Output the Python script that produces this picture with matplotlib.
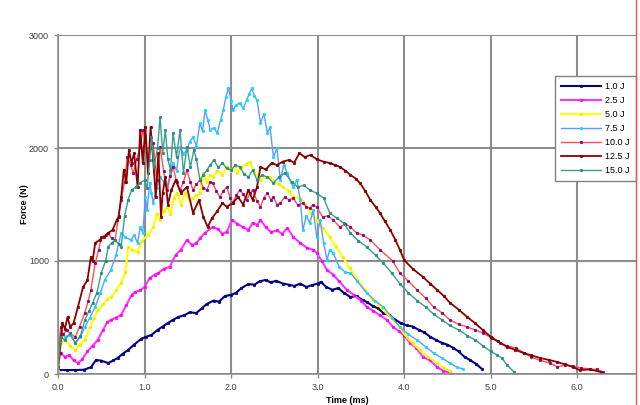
import matplotlib
matplotlib.use("Agg")
import matplotlib.pyplot as plt
from matplotlib.lines import Line2D

plt.rcParams['font.family'] = ['Liberation Sans', 'DejaVu Sans']

labels = ["1.0 J", "2.5 J", "5.0 J", "7.5 J", "10.0 J", "12.5 J", "15.0 J"]

# 1.0 J
t_10 = [0.0, 0.1, 0.2, 0.3, 0.38, 0.44, 0.5, 0.58, 0.64, 0.69, 0.75, 0.81, 0.88, 0.96, 1.02, 1.08, 1.15, 1.21,
        1.27, 1.33, 1.39, 1.46, 1.52, 1.6, 1.66, 1.72, 1.8, 1.86, 1.93, 2.0, 2.06, 2.12, 2.2, 2.27, 2.33, 2.4,
        2.46, 2.52, 2.6, 2.67, 2.73, 2.8, 2.87, 2.93, 3.0, 3.04, 3.1, 3.17, 3.24, 3.3, 3.38, 3.45, 3.52, 3.57,
        3.64, 3.7, 3.76, 3.83, 3.9, 3.96, 4.03, 4.1, 4.17, 4.23, 4.3, 4.37, 4.44, 4.5, 4.57, 4.63, 4.7, 4.76,
        4.83, 4.9]
f_10 = [35, 35, 35, 38, 60, 124, 118, 97, 120, 142, 180, 212, 260, 310, 330, 345, 390, 420,
        451, 480, 504, 520, 545, 540, 580, 620, 650, 640, 690, 700, 720, 760, 796, 790, 820, 832,
        810, 825, 800, 790, 779, 800, 770, 785, 800, 814, 770, 745, 760, 720, 681, 690, 655, 637,
        600, 580, 540, 520, 480, 451, 430, 420, 390, 370, 330, 300, 274, 260, 230, 200, 150, 124,
        90, 44]

# 2.5 J
t_25 = [0.0, 0.03, 0.08, 0.13, 0.18, 0.23, 0.28, 0.34, 0.4, 0.46, 0.52, 0.57, 0.61, 0.67, 0.73, 0.79, 0.85,
        0.89, 0.95, 1.0, 1.06, 1.12, 1.16, 1.22, 1.29, 1.36, 1.42, 1.49, 1.55, 1.6, 1.64, 1.7, 1.79, 1.85, 1.9,
        1.95, 2.01, 2.07, 2.14, 2.2, 2.25, 2.3, 2.34, 2.4, 2.46, 2.53, 2.59, 2.65, 2.72, 2.8, 2.88, 2.95, 2.99,
        3.05, 3.11, 3.18, 3.25, 3.34, 3.42, 3.5, 3.57, 3.64, 3.72, 3.8, 3.87, 3.94, 4.0, 4.07, 4.14, 4.22, 4.3,
        4.38, 4.45, 4.53]
f_25 = [80, 186, 150, 168, 120, 97, 130, 200, 250, 301, 390, 460, 478, 500, 522, 610, 700,
        726, 740, 770, 850, 880, 894, 930, 947, 1053, 1100, 1186, 1140, 1159, 1200, 1250, 1301, 1280, 1240,
        1257, 1363, 1330, 1300, 1274, 1336, 1320, 1363, 1300, 1257, 1270, 1240, 1292, 1212, 1159, 1115, 1100, 1071,
        1000, 920, 880, 820, 743, 700, 650, 593, 560, 520, 480, 416, 380, 340, 274, 230, 150, 120,
        62, 30, 10]

# 5.0 J
t_50 = [0.0, 0.03, 0.08, 0.14, 0.2, 0.25, 0.31, 0.37, 0.42, 0.46, 0.52, 0.57, 0.61, 0.67, 0.73, 0.78, 0.81,
        0.86, 0.92, 0.97, 1.04, 1.1, 1.14, 1.18, 1.22, 1.26, 1.3, 1.34, 1.38, 1.42, 1.47, 1.52, 1.56, 1.6, 1.64,
        1.68, 1.72, 1.76, 1.79, 1.84, 1.9, 1.95, 2.0, 2.04, 2.07, 2.12, 2.17, 2.22, 2.27, 2.34, 2.4, 2.45, 2.5,
        2.55, 2.6, 2.67, 2.72, 2.8, 2.86, 2.92, 2.99, 3.06, 3.14, 3.21, 3.29, 3.37, 3.46, 3.55, 3.64, 3.74, 3.84,
        3.94, 4.03, 4.1, 4.18, 4.28, 4.38, 4.46, 4.53]
f_50 = [30, 274, 300, 250, 212, 260, 300, 420, 500, 566, 620, 660, 681, 740, 805, 900, 1124,
        1100, 1080, 1180, 1230, 1300, 1420, 1363, 1440, 1478, 1420, 1560, 1602, 1500, 1600, 1540, 1560, 1580, 1600,
        1779, 1700, 1760, 1743, 1800, 1760, 1832, 1800, 1840, 1779, 1820, 1860, 1876, 1780, 1717, 1743, 1740, 1700,
        1680, 1655, 1620, 1566, 1558, 1500, 1425, 1363, 1290, 1212, 1130, 1035, 940, 832, 740, 655, 580, 504,
        420, 327, 270, 212, 150, 97, 55, 27]

# 7.5 J
t_75 = [0.0, 0.03, 0.08, 0.14, 0.2, 0.26, 0.31, 0.37, 0.43, 0.49, 0.54, 0.61, 0.67, 0.73, 0.78, 0.84, 0.88,
        0.92, 0.95, 0.98, 1.01, 1.03, 1.06, 1.08, 1.1, 1.14, 1.18, 1.22, 1.26, 1.3, 1.33, 1.37, 1.41, 1.45, 1.49,
        1.52, 1.56, 1.6, 1.64, 1.67, 1.7, 1.73, 1.76, 1.8, 1.84, 1.88, 1.91, 1.94, 1.97, 2.0, 2.02, 2.06, 2.1,
        2.14, 2.18, 2.21, 2.24, 2.27, 2.3, 2.34, 2.38, 2.42, 2.45, 2.49, 2.53, 2.57, 2.61, 2.65, 2.69, 2.72, 2.76,
        2.8, 2.83, 2.87, 2.91, 2.95, 2.99, 3.03, 3.07, 3.11, 3.14, 3.18, 3.25, 3.32, 3.38, 3.46, 3.57, 3.66, 3.76,
        3.86, 3.95, 4.05, 4.15, 4.25, 4.34, 4.44, 4.53, 4.61, 4.68]
f_75 = [100, 363, 330, 345, 274, 330, 416, 500, 593, 720, 832, 920, 1050, 1248, 1210, 1186, 1230,
        1159, 1300, 1250, 1566, 1450, 1690, 1600, 1513, 1650, 1743, 1700, 1655, 1780, 1867, 1800, 2009, 1950, 1982,
        2050, 2097, 2020, 2221, 2150, 2336, 2250, 2159, 2180, 2133, 2250, 2336, 2450, 2531, 2420, 2336, 2380, 2398,
        2350, 2425, 2480, 2531, 2460, 2425, 2221, 2300, 2133, 2186, 1920, 2000, 1717, 1850, 1779, 1700, 1655, 1720,
        1540, 1274, 1400, 1336, 1450, 1212, 1363, 1159, 1009, 1100, 1071, 950, 900, 894, 820, 717, 650, 593,
        500, 416, 350, 301, 240, 186, 140, 97, 60, 44]

# 10.0 J
t_100 = [0.0, 0.03, 0.06, 0.1, 0.14, 0.2, 0.25, 0.31, 0.35, 0.38, 0.43, 0.47, 0.5, 0.55, 0.58, 0.62, 0.66,
         0.7, 0.73, 0.77, 0.8, 0.84, 0.87, 0.91, 0.95, 0.98, 1.01, 1.04, 1.07, 1.1, 1.14, 1.18, 1.22, 1.26, 1.3,
         1.33, 1.37, 1.41, 1.45, 1.49, 1.53, 1.56, 1.6, 1.64, 1.68, 1.72, 1.76, 1.79, 1.83, 1.87, 1.91, 1.95,
         1.99, 2.02, 2.06, 2.1, 2.14, 2.18, 2.22, 2.25, 2.3, 2.34, 2.38, 2.42, 2.46, 2.49, 2.53, 2.57, 2.62, 2.67,
         2.72, 2.77, 2.83, 2.87, 2.91, 2.95, 2.99, 3.06, 3.12, 3.18, 3.26, 3.32, 3.38, 3.45, 3.52, 3.61, 3.72,
         3.87, 3.95, 4.05, 4.15, 4.25, 4.34, 4.44, 4.53, 4.63, 4.73, 4.82, 4.91, 5.01, 5.11, 5.19, 5.29, 5.38,
         5.47, 5.57, 5.69, 5.77, 5.86, 5.95, 6.05, 6.15, 6.23, 6.3]
f_100 = [150, 416, 350, 389, 360, 327, 420, 540, 650, 743, 982, 1100, 1212, 1230, 1248, 1200, 1186,
         1400, 1540, 1700, 1920, 1850, 1779, 1900, 2009, 2159, 2050, 1920, 2000, 2044, 1717, 2009, 1800, 1628, 1750,
         1832, 1700, 1628, 1700, 1805, 1700, 1628, 1680, 1717, 1650, 1628, 1700, 1690, 1620, 1566, 1620, 1655,
         1560, 1513, 1580, 1628, 1590, 1540, 1600, 1628, 1530, 1478, 1560, 1602, 1540, 1566, 1500, 1513, 1566, 1540,
         1558, 1496, 1513, 1480, 1469, 1500, 1478, 1389, 1400, 1363, 1300, 1330, 1300, 1250, 1230, 1186, 1100,
         1000, 894, 820, 743, 670, 593, 540, 478, 440, 416, 390, 363, 320, 274, 250, 230, 190, 150,
         120, 97, 62, 80, 70, 53, 44, 40, 18]

# 12.5 J
t_125 = [0.0, 0.02, 0.05, 0.08, 0.11, 0.14, 0.18, 0.23, 0.29, 0.34, 0.38, 0.4, 0.43, 0.48, 0.53, 0.58, 0.63,
         0.68, 0.7, 0.73, 0.76, 0.79, 0.82, 0.85, 0.88, 0.92, 0.95, 0.98, 1.01, 1.04, 1.07, 1.1, 1.13, 1.16,
         1.19, 1.21, 1.24, 1.27, 1.31, 1.36, 1.42, 1.49, 1.56, 1.63, 1.68, 1.73, 1.78, 1.84, 1.9, 1.95, 2.02,
         2.08, 2.14, 2.2, 2.25, 2.3, 2.34, 2.4, 2.47, 2.53, 2.6, 2.67, 2.73, 2.79, 2.85, 2.92, 2.99, 3.07, 3.14,
         3.2, 3.26, 3.32, 3.38, 3.44, 3.49, 3.55, 3.61, 3.67, 3.72, 3.78, 3.84, 3.9, 3.95, 4.0, 4.1, 4.22, 4.3,
         4.38, 4.46, 4.53, 4.63, 4.73, 4.82, 4.91, 5.0, 5.08, 5.19, 5.28, 5.38, 5.47, 5.57, 5.67, 5.77, 5.86,
         5.95, 6.03, 6.15, 6.27]
f_125 = [60, 186, 451, 400, 504, 416, 451, 593, 770, 830, 1035, 1000, 1159, 1186, 1212, 1248, 1274,
         1363, 1389, 1566, 1805, 1700, 1982, 1867, 1955, 1655, 2159, 1867, 2186, 1779, 2186, 1894, 1566, 1955,
         1389, 1600, 1743, 1500, 1628, 1717, 1602, 1655, 1425, 1540, 1389, 1301, 1380, 1440, 1513, 1480, 1513,
         1566, 1500, 1628, 1540, 1655, 1832, 1810, 1867, 1849, 1880, 1894, 1870, 1955, 1920, 1938, 1900, 1879, 1867,
         1850, 1832, 1800, 1761, 1730, 1690, 1620, 1540, 1480, 1425, 1350, 1274, 1186, 1100, 1009, 930, 858, 800,
         745, 690, 630, 570, 504, 450, 389, 330, 290, 239, 215, 186, 165, 142, 125, 106, 85,
         62, 35, 40, 18]

# 15.0 J
t_150 = [0.0, 0.03, 0.08, 0.14, 0.2, 0.26, 0.31, 0.36, 0.4, 0.45, 0.5, 0.55, 0.58, 0.62, 0.66, 0.7, 0.73,
         0.77, 0.81, 0.85, 0.9, 0.95, 1.0, 1.03, 1.06, 1.08, 1.11, 1.15, 1.18, 1.21, 1.24, 1.27, 1.3, 1.33, 1.37,
         1.41, 1.45, 1.49, 1.53, 1.57, 1.6, 1.64, 1.68, 1.72, 1.76, 1.8, 1.85, 1.9, 1.95, 2.0, 2.05, 2.1, 2.15,
         2.2, 2.25, 2.3, 2.36, 2.42, 2.49, 2.55, 2.62, 2.7, 2.77, 2.84, 2.91, 2.99, 3.07, 3.14, 3.22, 3.3, 3.38,
         3.47, 3.57, 3.67, 3.76, 3.86, 3.95, 4.05, 4.15, 4.25, 4.34, 4.44, 4.53, 4.63, 4.73, 4.82, 4.91, 5.0,
         5.07, 5.13, 5.19, 5.27]
f_150 = [50, 327, 300, 363, 274, 340, 478, 560, 628, 720, 894, 1000, 1124, 1160, 1186, 1150, 1124,
         1400, 1540, 1628, 1655, 1690, 1717, 1650, 1894, 2097, 1832, 2000, 2274, 1955, 2159, 1900, 1805, 2133, 1920,
         2159, 1779, 2009, 1832, 1982, 1900, 1717, 1760, 1805, 1850, 1894, 1830, 1867, 1820, 1805, 1850, 1832, 1770,
         1743, 1805, 1717, 1760, 1743, 1690, 1740, 1779, 1700, 1655, 1670, 1628, 1600, 1558, 1425, 1380, 1336, 1248,
         1180, 1124, 1050, 982, 890, 800, 717, 650, 593, 530, 478, 430, 389, 340, 301, 250, 200,
         170, 140, 80, 18]

times = [t_10, t_25, t_50, t_75, t_100, t_125, t_150]
forces = [f_10, f_25, f_50, f_75, f_100, f_125, f_150]
line_cols = ['#000080', '#ff33ff', '#ffff00', '#5c9cff', '#ff5050', '#8b0000', '#3a9e8c']
mark_cols = ['#000080', '#ff00ff', '#eeee00', '#00e0ff', '#800080', '#800000', '#2a8a80']
widths = [1.5, 1.5, 1.5, 1.0, 1.0, 1.3, 1.0]

fig = plt.figure(figsize=(6.4, 4.05), dpi=100)
ax = fig.add_axes([58/640, 31/405, 578/640, 339/405])

for t, f, lc, mc, lw, lab in zip(times, forces, line_cols, mark_cols, widths, labels):
    ax.plot(t, f, color=lc, lw=lw, marker='o', ms=1.8, mfc=mc, mec=mc, mew=0.5, label=lab)

ax.set_xlim(0, 6.68)
ax.set_ylim(0, 3000)
ax.set_xticks([0, 1, 2, 3, 4, 5, 6])
ax.set_xticklabels(["0.0", "1.0", "2.0", "3.0", "4.0", "5.0", "6.0"])
ax.set_yticks([0, 1000, 2000, 3000])
ax.grid(True, color='#8c8c8c', lw=1.5)
ax.set_axisbelow(True)
for s in ['top', 'right']:
    ax.spines[s].set_visible(False)
ax.spines['left'].set_color('#8c8c8c')
ax.spines['bottom'].set_color('#8c8c8c')
ax.spines['left'].set_linewidth(1.2)
ax.spines['bottom'].set_linewidth(1.2)
ax.tick_params(labelsize=6.5, labelcolor='#404040', color='#8c8c8c', length=3, width=1)
ax.set_xlabel("Time (ms)", fontsize=6.5, fontweight='bold', labelpad=3)
ax.set_ylabel("Force (N)", fontsize=6.5, fontweight='bold', labelpad=0)

leg = ax.legend(loc='upper right', bbox_to_anchor=(1.0, 0.88), borderaxespad=0, fontsize=6.5,
                frameon=True, fancybox=False, edgecolor='#808080', framealpha=1, handlelength=4.4,
                labelspacing=0.55, borderpad=0.7, handletextpad=0.5)
leg.get_frame().set_linewidth(1.0)

# red vertical marker at right edge
fig.add_artist(Line2D([636/640, 636/640], [0, 1], color='#ff5050', lw=1.0))

fig.savefig("out.png", dpi=100)
